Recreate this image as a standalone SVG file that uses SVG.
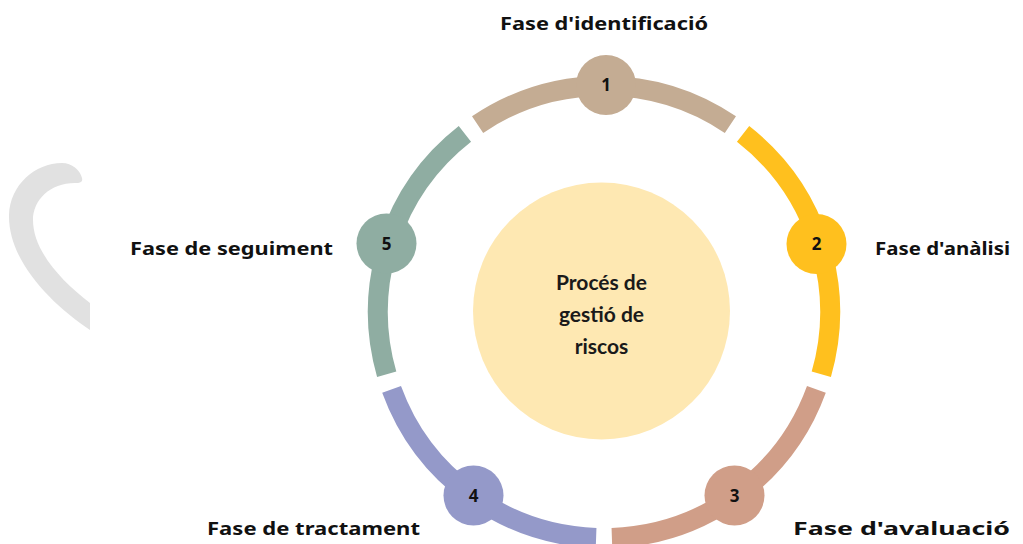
<svg xmlns="http://www.w3.org/2000/svg" width="1023" height="544" viewBox="0 0 1023 544">
<style>
.seg{fill:none;stroke-width:20;stroke-linecap:butt}
.num{font-family:"Noto Sans","Liberation Sans",sans-serif;font-weight:700;font-size:17px;fill:#111;text-anchor:middle}
.lbl{font-family:"Noto Sans","Liberation Sans",sans-serif;font-weight:700;font-size:18px;fill:#111}
.ctr{font-family:Lato,"Liberation Sans",sans-serif;font-weight:700;font-size:21px;fill:#1a1a1a;text-anchor:middle}
</style>
<rect width="1023" height="544" fill="#ffffff"/>
<path d="M 90 330 C 50 303, 8 260, 9 215 C 10 185, 35 163, 62 163 C 72 163, 80 170, 82 178 C 83 182, 80 183, 75 183 C 50 183, 33 200, 33 220 C 33 250, 60 280, 90 303 Z" fill="#e1e1e1"/>
<g id="center">
<circle cx="601.5" cy="311" r="128.5" fill="#fee8b2"/>
<text class="ctr" x="601.5" y="290">Procés de</text>
<text class="ctr" x="601.5" y="322">gestió de</text>
<text class="ctr" x="601.5" y="354">riscos</text>
</g>
<g id="connectors">
<path class="seg" stroke="#c4ac93" d="M 477.6 124.6 A 226 226 0 0 1 730.4 124.6"/>
<path class="seg" stroke="#ffc01e" d="M 743.1 133.9 A 226 226 0 0 1 821.3 374.3"/>
<path class="seg" stroke="#d09e88" d="M 816.4 389.3 A 226 226 0 0 1 611.9 537.9"/>
<path class="seg" stroke="#9499c9" d="M 596.1 537.9 A 226 226 0 0 1 391.6 389.3"/>
<path class="seg" stroke="#8fada2" d="M 386.7 374.3 A 226 226 0 0 1 464.9 133.9"/>
</g>
<g id="node1">
<circle cx="606" cy="85" r="30" fill="#c4ac93"/>
<text class="num" x="606" y="91">1</text>
<text class="lbl" x="500" y="30" textLength="208" lengthAdjust="spacingAndGlyphs">Fase d'identificació</text>
</g>
<g id="node2">
<circle cx="816.5" cy="244" r="30" fill="#ffc01e"/>
<text class="num" x="816.5" y="250">2</text>
<text class="lbl" x="875" y="255" textLength="135" lengthAdjust="spacingAndGlyphs">Fase d'anàlisi</text>
</g>
<g id="node3">
<circle cx="734.5" cy="495.5" r="30" fill="#d09e88"/>
<text class="num" x="734.5" y="501.5">3</text>
<text class="lbl" x="793" y="535" textLength="217" lengthAdjust="spacingAndGlyphs">Fase d'avaluació</text>
</g>
<g id="node4">
<circle cx="473.5" cy="495.5" r="30" fill="#9499c9"/>
<text class="num" x="473.5" y="501.5">4</text>
<text class="lbl" x="207" y="535" textLength="213" lengthAdjust="spacingAndGlyphs">Fase de tractament</text>
</g>
<g id="node5">
<circle cx="386.5" cy="243.5" r="30" fill="#8fada2"/>
<text class="num" x="386.5" y="249.5">5</text>
<text class="lbl" x="130" y="255" textLength="203" lengthAdjust="spacingAndGlyphs">Fase de seguiment</text>
</g>
</svg>
